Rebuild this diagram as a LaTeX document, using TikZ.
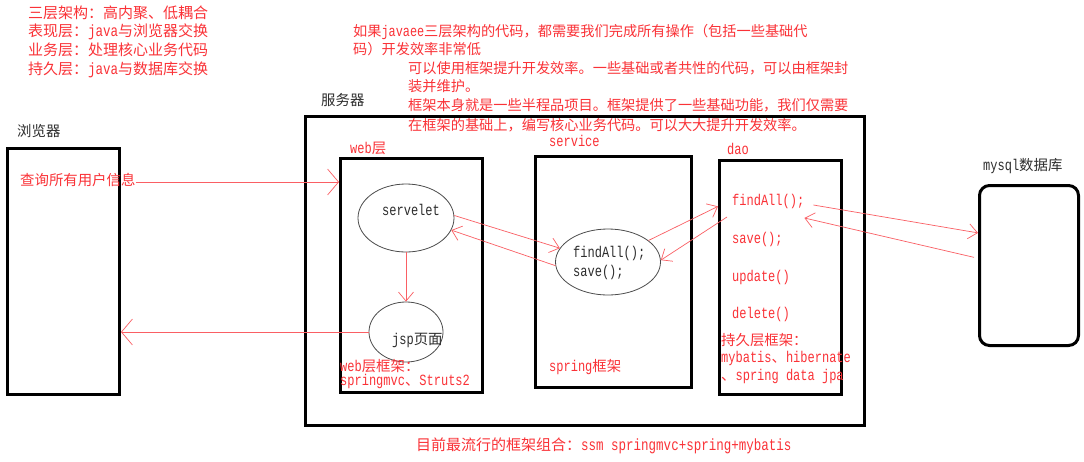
\documentclass[tikz,border=0pt]{standalone}
\usepackage{fontspec}
\setmainfont{Noto Sans CJK SC}
\newfontfamily\monofnt[Scale=1.08,FakeStretch=0.772]{Liberation Mono}
\newcommand\mm[1]{{\monofnt #1}}
\usetikzlibrary{shapes.geometric,arrows.meta,calc}
\definecolor{txtred}{RGB}{250,50,55}
\definecolor{arrred}{RGB}{250,95,100}
\definecolor{txtblk}{RGB}{45,45,45}
\begin{document}
\begin{tikzpicture}[x=1pt,y=-1pt,
  lbl/.style={inner sep=0pt, anchor=west, text height=0.8em, text depth=0.15em, font=\fontsize{14.4}{17}\selectfont},
  rt/.style={lbl, text=txtred},
  bt/.style={lbl, text=txtblk},
  bigt/.style={font=\fontsize{15}{18}\selectfont},
  midt/.style={font=\fontsize{14.2}{17}\selectfont},
  frame/.style={draw=black, line width=3pt, inner sep=0pt, anchor=north west},
  oval/.style={draw=black!70, line width=0.8pt, ellipse, inner sep=0pt},
  conn/.style={draw=arrred, line width=0.7pt, -{Straight Barb[length=9pt,width=15pt]}},
  bigconn/.style={draw=arrred, line width=0.7pt, -{Straight Barb[length=11pt,width=26pt]}},
]
\useasboundingbox (0,0) rectangle (1084,461);
\fill[white] (0,0) rectangle (1084,461);

% top-left notes
\node[rt,bigt] (n1) at (28,15) {三层架构：高内聚、低耦合};
\node[rt,bigt] (n2) at (28,33) {表现层：\mm{java}与浏览器交换};
\node[rt,bigt] (n3) at (28,52) {业务层：处理核心业务代码};
\node[rt,bigt] (n4) at (28,71) {持久层：\mm{java}与数据库交换};

% top-middle notes
\node[rt,midt] (m1) at (353,33) {如果\mm{javaee}三层架构的代码，都需要我们完成所有操作（包括一些基础代};
\node[rt,midt] (m2) at (353,51) {码）开发效率非常低};
\node[rt,midt] (m3) at (408,70) {可以使用框架提升开发效率。一些基础或者共性的代码，可以由框架封};
\node[rt,midt] (m4) at (408,88) {装并维护。};
\node[rt,midt] (m5) at (408,107) {框架本身就是一些半程品项目。框架提供了一些基础功能，我们仅需要};
\node[rt,midt] (m6) at (408,127) {在框架的基础上，编写核心业务代码。可以大大提升开发效率。};

% browser
\node[bt] (brl) at (17,133) {浏览器};
\node[frame, minimum width=112, minimum height=246] (br) at (6,147) {};
\node[rt] (q) at (20,182) {查询所有用户信息};

% server
\node[bt] (srvl) at (321,102) {服务器};
\node[frame, minimum width=559, minimum height=309] (srv) at (304,115) {};

% web layer
\node[rt] (webl) at (350,150) {\mm{web}层};
\node[frame, minimum width=142, minimum height=234] (web) at (339,157) {};
\node[oval, minimum width=96, minimum height=68] (sv) at (406,218) {};
\node[bt] (svt) at (382,212) {\mm{servelet}};
\node[oval, minimum width=74, minimum height=60] (jsp) at (406,332) {};
\node[bt] (jspt) at (392,341) {\mm{jsp}页面};
\node[rt] (wf1) at (340,368) {\mm{web}层框架：};
\node[rt] (wf2) at (340,382) {\mm{springmvc}、\mm{Struts2}};

% service layer
\node[rt] (svcl) at (549,143) {\mm{service}};
\node[frame, minimum width=156, minimum height=231] (svcb) at (534,155) {};
\node[oval, minimum width=105, minimum height=66] (svc) at (608,262) {};
\node[bt] (sf) at (573,254) {\mm{findAll();}};
\node[bt] (ss) at (573,273) {\mm{save();}};
\node[rt] (spf) at (549,368) {\mm{spring}框架};

% dao layer
\node[rt] (daol) at (727,151) {\mm{dao}};
\node[frame, minimum width=122, minimum height=234] (dao) at (718,159) {};
\node[rt] (df) at (732,202) {\mm{findAll();}};
\node[rt] (ds) at (732,240) {\mm{save();}};
\node[rt] (du) at (732,278) {\mm{update()}};
\node[rt] (dd) at (732,315) {\mm{delete()}};
\node[rt] (pf1) at (721,342) {持久层框架：};
\node[rt] (pf2) at (721,359) {\mm{mybatis}、\mm{hibernate}};
\node[rt] (pf3) at (721,377) {、\mm{spring data jpa}};

% database
\node[bt] (dbl) at (983,167) {\mm{mysql}数据库};
\node[frame, rounded corners=10pt, minimum width=99, minimum height=160] (db) at (978,184) {};

% bottom note
\node[rt,bigt] (bn) at (416,447) {目前最流行的框架组合：\mm{ssm springmvc+spring+mybatis}};

% connectors
\draw[bigconn] (q.east) -- (q.east -| web.west);
\draw[conn] (sv.south) -- (jsp.north);
\draw[conn] (sv.3) -- (svc.164);
\draw[conn] (svc.184) -- (sv.-15);
\draw[conn] (svc.28) -- ($(dao.north west)!0.2!(dao.south west)$);
\draw[conn] ($(dao.north west)+(9,58)$) -- (svc.2);
\draw[bigconn] (jsp.west) -- (jsp.west -| br.east);
\draw[conn] ($(df.east)+(9,3)$) -- ($(db.north west)!0.3!(db.south west)$);
\draw[conn] ($(db.north west)!0.45!(db.south west)+(-4,0)$) -- ($(df.east)+(0,16)$);
\end{tikzpicture}
\end{document}
